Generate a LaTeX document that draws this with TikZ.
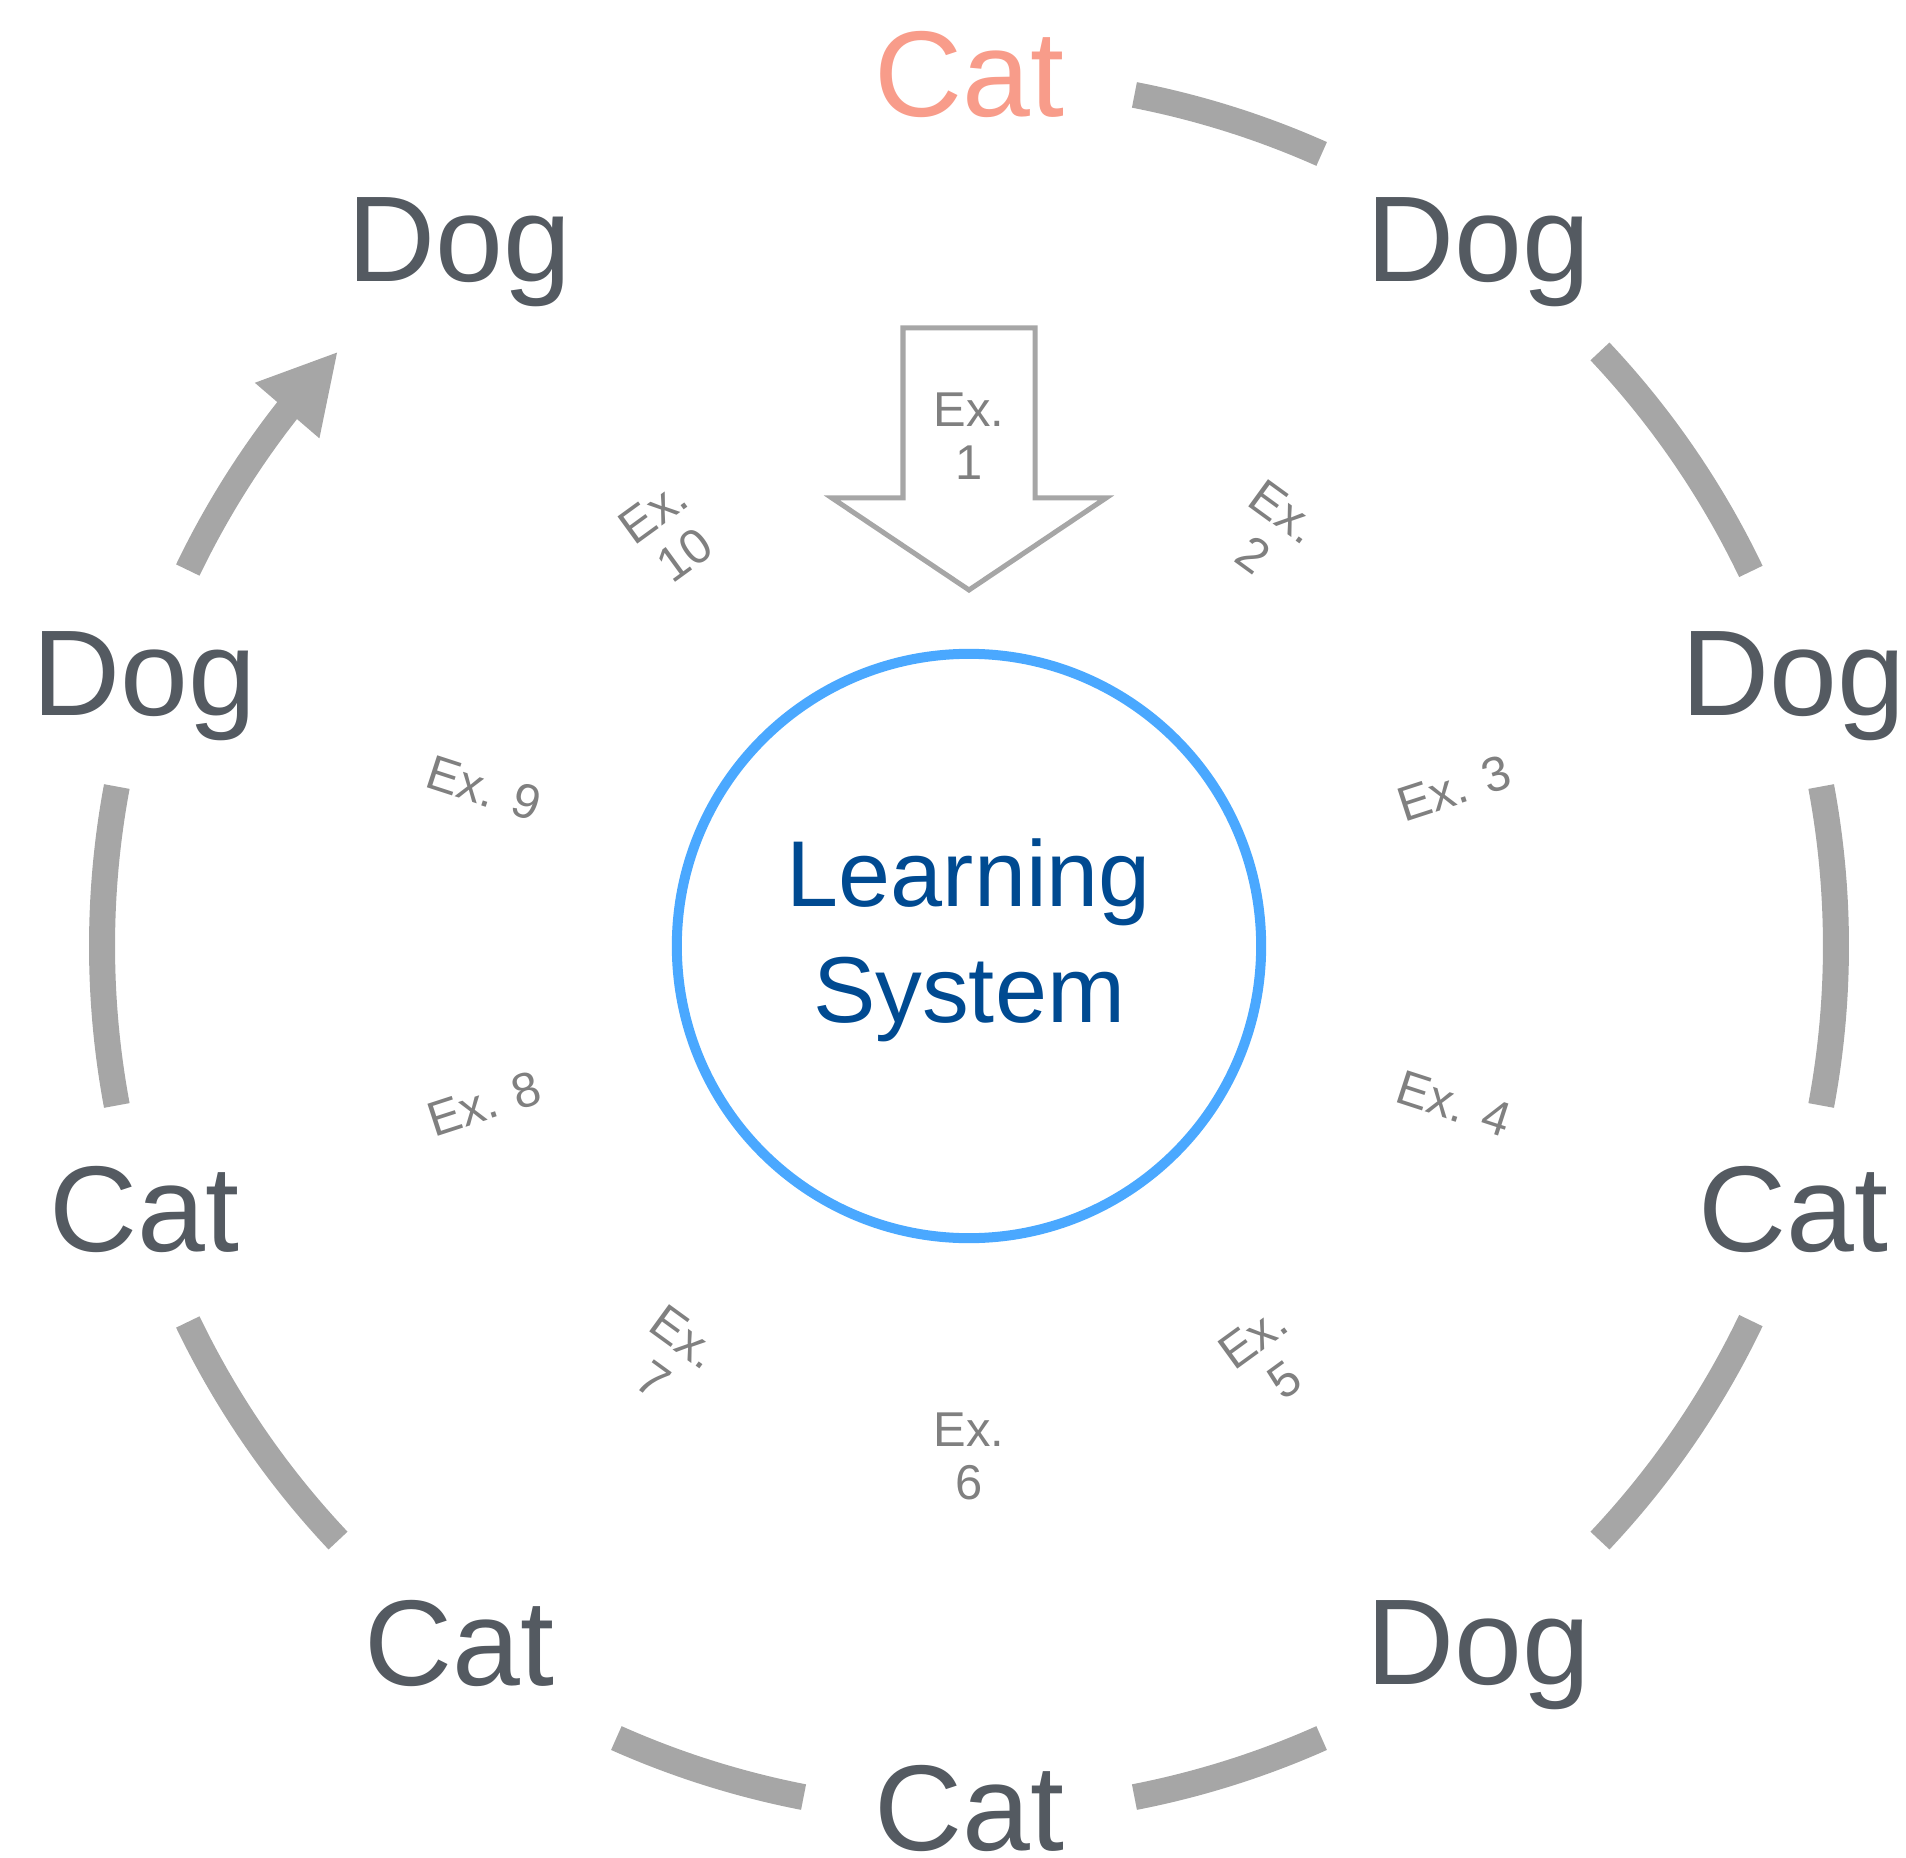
\documentclass[tikz,border=0pt]{standalone}
\usepackage{fontspec}
\setmainfont{Liberation Sans}
\usetikzlibrary{arrows.meta,bending}

\definecolor{cArc}{RGB}{166,166,166}
\definecolor{cWord}{RGB}{84,90,97}
\definecolor{cHit}{RGB}{248,156,138}
\definecolor{cRing}{RGB}{74,168,255}
\definecolor{cSys}{RGB}{0,74,145}
\definecolor{cEx}{RGB}{128,128,128}

\begin{document}
\begin{tikzpicture}[x=0.01cm, y=0.01cm,
    word/.style={font=\fontsize{34.7}{40}\selectfont, text=cWord, inner sep=0pt, text depth=0pt, yshift=0.05cm},
    exlab/.style={font=\fontsize{13.9}{15.1}\selectfont, text=cEx, inner sep=0pt, align=center},
    arcline/.style={cArc, line width=0.26cm}]

\pgfmathsetmacro{\Ro}{867}
\pgfmathsetmacro{\Ri}{510}

\useasboundingbox (-969,-911) rectangle (937,946);

% ── Outer ring of answers ──
\node[word, text=cHit] (w1) at (90:\Ro) {Cat};
\foreach \i/\ang/\txt in {2/54/Dog, 3/18/Dog, 4/-18/Cat, 5/-54/Dog, 6/-90/Cat,
                          7/-126/Cat, 8/-162/Cat, 9/162/Dog, 10/126/Dog}
    \node[word] (w\i) at (\ang:\Ro) {\txt};

% ── Arcs between answers ──
\foreach \a/\b in {79/66, 43.3/25.6, 10.6/-10.6, -25.6/-43.3, -66/-79,
                   -101/-114, -136.7/-154.3, -169.4/-190.6}
    \draw[arcline] (\a:\Ro) arc[start angle=\a, end angle=\b, radius=\Ro];
\draw[arcline, -{Triangle[length=0.78cm, width=0.79cm, flex]}]
    (154.3:\Ro) arc[start angle=154.3, end angle=136.7, radius=\Ro];

% ── Learning system ──
\node[circle, draw=cRing, line width=0.1cm, minimum size=5.84cm, inner sep=0pt] (ring) at (0,0) {};
\node[font=\fontsize{26.6}{33}\selectfont, text=cSys, align=center] (sys) at (0,6) {Learning\\System};

% ── Hollow input arrow ──
\draw[cArc, line width=0.05cm, fill=white]
    (-66,618) -- (66,618) -- (66,448) -- (137,448) -- (0,356) -- (-137,448) -- (-66,448) -- cycle;

% ── Example labels ──
\foreach \i/\ang/\rot/\txt in {1/90/0/{Ex.\\1}, 2/54/-36/{Ex.\\2}, 3/18/18/{Ex. 3},
                               4/-18/-18/{Ex. 4}, 5/-54/36/{Ex.\\5}, 6/-90/0/{Ex.\\6},
                               7/-126/-36/{Ex.\\7}, 8/-162/18/{Ex. 8}, 9/162/-18/{Ex. 9},
                               10/126/36/{Ex.\\10}}
    \node[exlab, rotate=\rot] (ex\i) at (\ang:\Ri) {\txt};

\end{tikzpicture}
\end{document}
